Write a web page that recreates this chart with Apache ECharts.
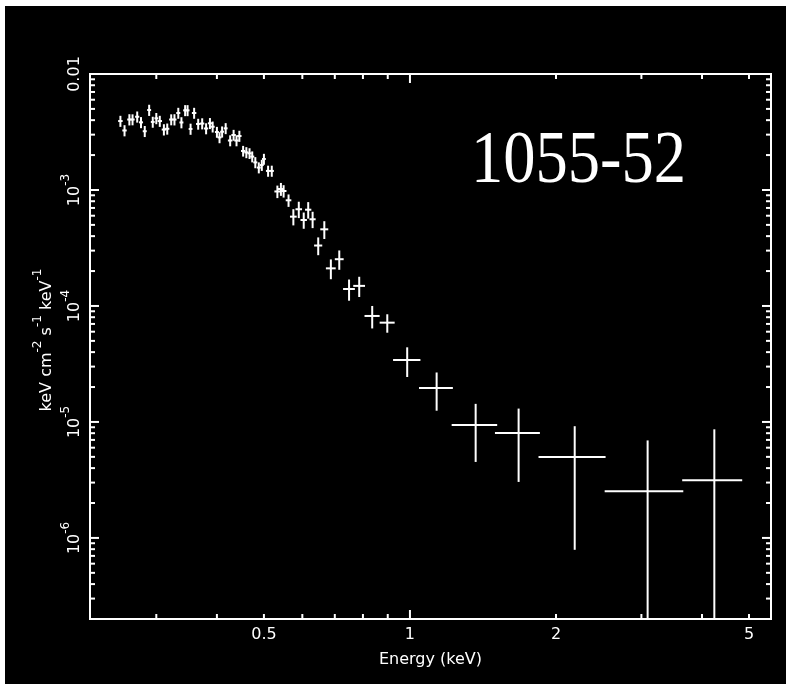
<!DOCTYPE html>
<html>
<head>
<meta charset="utf-8">
<style>
  html, body { margin: 0; padding: 0; background: #000; overflow: hidden; }
  #bandTop { position: absolute; left: 0; top: 0; width: 100%; height: 6px; background: #fff; }
  #bandLeft { position: absolute; left: 0; top: 0; width: 5px; height: 100%; background: #fff; }
  #chart { position: absolute; left: 5px; top: 6px; width: 781px; height: 678px; background: #000; }
</style>
</head>
<body>
<div id="bandTop"></div>
<div id="bandLeft"></div>
<div id="chart"></div>
<script src="https://cdn.jsdelivr.net/npm/echarts@6/dist/echarts.min.js"></script>
<script>
// spectrum bins: centre energy (keV), half width, flux and its 1-sigma error
const energy = [0.253, 0.258, 0.264, 0.268, 0.274, 0.279, 0.284, 0.290, 0.295, 0.300,
  0.305, 0.311, 0.316, 0.322, 0.327, 0.333, 0.338, 0.344, 0.348, 0.353,
  0.359, 0.366, 0.373, 0.380, 0.387, 0.392, 0.400, 0.405, 0.410, 0.417,
  0.426, 0.433, 0.439, 0.445, 0.453, 0.460, 0.467, 0.473, 0.480, 0.488,
  0.495, 0.500, 0.510, 0.519, 0.533, 0.542, 0.549, 0.562, 0.575, 0.590,
  0.604, 0.617, 0.630, 0.647, 0.666, 0.687, 0.715, 0.749, 0.786, 0.836,
  0.898, 0.987, 1.135, 1.366, 1.675, 2.186, 3.09, 4.241];
const energyErr = [0.0027, 0.0027, 0.0027, 0.0027, 0.0027, 0.0027, 0.0027, 0.0027, 0.0027, 0.0027,
  0.0032, 0.0032, 0.0032, 0.0032, 0.0032, 0.0032, 0.0032, 0.0032, 0.0032, 0.0032,
  0.0038, 0.0038, 0.0038, 0.0038, 0.0038, 0.0038, 0.0038, 0.0038, 0.0038, 0.0038,
  0.0046, 0.0046, 0.0046, 0.0046, 0.0046, 0.0046, 0.0046, 0.0046, 0.0046, 0.0046,
  0.0046, 0.0046, 0.0052, 0.0052, 0.0075, 0.0075, 0.0075, 0.0075, 0.0092, 0.0092,
  0.0092, 0.0092, 0.0092, 0.0125, 0.0126, 0.016, 0.015, 0.021, 0.022, 0.030,
  0.032, 0.064, 0.091, 0.147, 0.178, 0.345, 0.57, 0.60];
const flux = [3.93e-3, 3.26e-3, 4.05e-3, 4.05e-3, 4.28e-3, 3.83e-3, 3.21e-3, 4.89e-3, 3.86e-3, 4.15e-3,
  3.93e-3, 3.32e-3, 3.37e-3, 4.05e-3, 4.05e-3, 4.61e-3, 3.82e-3, 4.86e-3, 4.86e-3, 3.36e-3,
  4.61e-3, 3.71e-3, 3.74e-3, 3.39e-3, 3.76e-3, 3.51e-3, 3.16e-3, 2.84e-3, 3.18e-3, 3.40e-3,
  2.67e-3, 2.98e-3, 2.67e-3, 2.92e-3, 2.17e-3, 2.11e-3, 2.07e-3, 1.94e-3, 1.73e-3, 1.56e-3,
  1.64e-3, 1.85e-3, 1.46e-3, 1.46e-3, 9.71e-4, 1.02e-3, 9.80e-4, 8.15e-4, 5.89e-4, 6.82e-4,
  5.51e-4, 6.76e-4, 5.59e-4, 3.32e-4, 4.58e-4, 2.11e-4, 2.53e-4, 1.40e-4, 1.49e-4, 8.20e-5,
  7.18e-5, 3.42e-5, 1.96e-5, 9.42e-6, 8.04e-6, 4.99e-6, 2.53e-6, 3.14e-6];
const fluxErr = [4.3e-4, 3.6e-4, 4.5e-4, 4.4e-4, 4.7e-4, 4.2e-4, 3.5e-4, 5.4e-4, 4.2e-4, 4.6e-4,
  4.3e-4, 3.7e-4, 3.7e-4, 4.4e-4, 4.5e-4, 5.0e-4, 4.2e-4, 5.3e-4, 5.3e-4, 3.7e-4,
  5.0e-4, 4.0e-4, 4.1e-4, 3.7e-4, 4.1e-4, 3.8e-4, 3.4e-4, 3.1e-4, 3.5e-4, 3.7e-4,
  2.9e-4, 3.2e-4, 2.9e-4, 3.2e-4, 2.3e-4, 2.3e-4, 2.2e-4, 2.1e-4, 1.9e-4, 1.7e-4,
  1.8e-4, 2.0e-4, 1.6e-4, 1.6e-4, 1.2e-4, 1.3e-4, 1.2e-4, 1.0e-4, 9.4e-5, 1.1e-4,
  8.8e-5, 1.1e-4, 9.0e-5, 5.8e-5, 8.0e-5, 4.1e-5, 4.8e-5, 2.9e-5, 2.95e-5, 1.8e-5,
  1.3e-5, 9.8e-6, 7.1e-6, 4.9e-6, 5.0e-6, 4.2e-6, 4.4e-6, 5.5e-6];

const xRange = [0.219, 5.55];
const yRange = [2e-7, 0.01];
const xLabelValues = [0.5, 1, 2, 5];
const yLabelValues = [1e-6, 1e-5, 1e-4, 1e-3, 1e-2];
const xMajor = [1];
const xMinor = [0.3, 0.4, 0.5, 0.6, 0.7, 0.8, 0.9, 2, 3, 4, 5];
const yMajor = [1e-6, 1e-5, 1e-4, 1e-3];

const FONT = '"DejaVu Sans", sans-serif';

// minor log ticks 2..9 in every decade of the y range
let yMinor = [];
for (let d = -7; d <= -3; d++) {
  for (let k = 2; k <= 9; k++) {
    let v = k * Math.pow(10, d);
    if (v > yRange[0] * 1.001 && v < yRange[1] * 0.999) yMinor.push(v);
  }
}

// tick items: [x, y, side(0 bottom,1 top,2 left,3 right), major]
let tickData = [];
xMajor.forEach(v => { tickData.push([v, yRange[0], 0, 1]); tickData.push([v, yRange[1], 1, 1]); });
xMinor.forEach(v => { tickData.push([v, yRange[0], 0, 0]); tickData.push([v, yRange[1], 1, 0]); });
yMajor.forEach(v => { tickData.push([xRange[0], v, 2, 1]); tickData.push([xRange[1], v, 3, 1]); });
yMinor.forEach(v => { tickData.push([xRange[0], v, 2, 0]); tickData.push([xRange[1], v, 3, 0]); });

let labelData = [];
xLabelValues.forEach(v => labelData.push([v, yRange[0], 0]));
yLabelValues.forEach(v => labelData.push([xRange[0], v, 1]));

const supRich = {
  b: { fontSize: 16, fontFamily: FONT, lineHeight: 30, fill: '#fff' },
  s: { fontSize: 12, fontFamily: FONT, lineHeight: 12, verticalAlign: 'top', fill: '#fff' }
};

let myChart = echarts.init(document.getElementById('chart'));
let option = {
  backgroundColor: '#000',
  animation: false,
  grid: {
    left: 85, top: 68, right: 15, bottom: 65,
    show: true, borderColor: '#fff', borderWidth: 2
  },
  xAxis: {
    type: 'log', logBase: 10, min: xRange[0], max: xRange[1],
    axisLine: { show: false }, axisTick: { show: false },
    axisLabel: { show: false }, splitLine: { show: false },
    name: 'Energy (keV)', nameLocation: 'middle', nameGap: 33,
    nameTextStyle: { color: '#fff', fontSize: 16, fontFamily: FONT }
  },
  yAxis: {
    type: 'log', logBase: 10, min: yRange[0], max: yRange[1],
    axisLine: { show: false }, axisTick: { show: false },
    axisLabel: { show: false }, splitLine: { show: false }
  },
  graphic: [
    {
      type: 'text', x: 42, y: 334, rotation: Math.PI / 2,
      style: {
        text: '{b|keV cm}{s|-2}{b| s}{s|-1}{b| keV}{s|-1}',
        rich: supRich, fill: '#fff',
        align: 'center', verticalAlign: 'middle',
        textAlign: 'center', textVerticalAlign: 'middle'
      }
    },
    {
      type: 'text', x: 573.5, y: 156.5, scaleX: 0.86,
      style: {
        text: '1055-52', fill: '#fff',
        font: '75px "Liberation Serif", serif',
        align: 'center', verticalAlign: 'middle',
        textAlign: 'center', textVerticalAlign: 'middle'
      }
    }
  ],
  series: [
    {
      type: 'custom',
      name: 'ticks',
      silent: true,
      encode: { x: 0, y: 1 },
      data: tickData,
      renderItem: function (params, api) {
        let p = api.coord([api.value(0), api.value(1)]);
        let side = api.value(2);
        let len = api.value(3) ? 9 : 5;
        let x2 = p[0], y2 = p[1];
        if (side === 0) y2 -= len;
        else if (side === 1) y2 += len;
        else if (side === 2) x2 += len;
        else x2 -= len;
        return {
          type: 'line',
          shape: { x1: p[0], y1: p[1], x2: x2, y2: y2 },
          style: { stroke: '#fff', lineWidth: 2 }
        };
      }
    },
    {
      type: 'custom',
      name: 'labels',
      silent: true,
      encode: { x: 0, y: 1 },
      data: labelData,
      renderItem: function (params, api) {
        let p = api.coord([api.value(0), api.value(1)]);
        if (api.value(2) === 0) {
          return {
            type: 'text', x: p[0], y: p[1] + 16,
            style: {
              text: String(api.value(0)), fill: '#fff', fontSize: 16, fontFamily: FONT,
              align: 'center', verticalAlign: 'middle'
            }
          };
        }
        let v = api.value(1);
        let txt = v >= 0.0099 ? '{b|0.01}' : '{b|10}{s|-' + Math.round(-Math.log10(v)) + '}';
        return {
          type: 'text', x: p[0] - 15, y: p[1], rotation: Math.PI / 2,
          style: {
            text: txt, rich: supRich, fill: '#fff',
            align: 'center', verticalAlign: 'middle'
          }
        };
      }
    },
    {
      type: 'custom',
      name: 'spectrum',
      clip: true,
      encode: { x: 0, y: 2 },
      data: energy.map((e, i) => [e, energyErr[i], flux[i], fluxErr[i]]),
      renderItem: function (params, api) {
        let e = api.value(0), de = api.value(1), f = api.value(2), df = api.value(3);
        let lo = Math.max(f - df, yRange[0]);
        let hi = Math.min(f + df, yRange[1]);
        let l = api.coord([e - de, f]), r = api.coord([e + de, f]);
        let t = api.coord([e, hi]), b = api.coord([e, lo]);
        return {
          type: 'group',
          children: [
            { type: 'line', shape: { x1: l[0], y1: l[1], x2: r[0], y2: r[1] }, style: { stroke: '#fff', lineWidth: 2 } },
            { type: 'line', shape: { x1: t[0], y1: t[1], x2: b[0], y2: b[1] }, style: { stroke: '#fff', lineWidth: 2 } }
          ]
        };
      }
    }
  ]
};
myChart.setOption(option);
</script>
</body>
</html>
